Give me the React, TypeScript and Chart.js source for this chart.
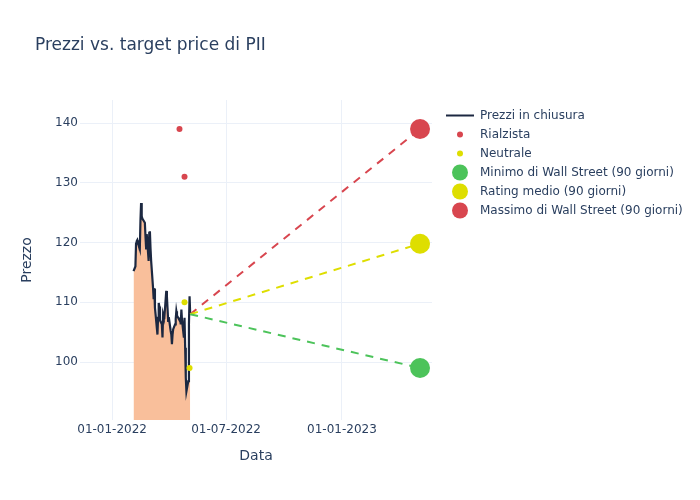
import React, { useEffect, useRef } from "react";
import { Chart, registerables } from "chart.js";

Chart.register(...registerables);

const chartTitle = "Prezzi vs. target price di PII";
const xAxisTitle = "Data";
const yAxisTitle = "Prezzo";

const priceDates = [
  "2022-02-04", "2022-02-07", "2022-02-08", "2022-02-09", "2022-02-10", "2022-02-11",
  "2022-02-14", "2022-02-15", "2022-02-16", "2022-02-17", "2022-02-18", "2022-02-22",
  "2022-02-23", "2022-02-24", "2022-02-25", "2022-02-28",
  "2022-03-01", "2022-03-02", "2022-03-03", "2022-03-04", "2022-03-07", "2022-03-08",
  "2022-03-09", "2022-03-10", "2022-03-11", "2022-03-14", "2022-03-15", "2022-03-16",
  "2022-03-17", "2022-03-18", "2022-03-21", "2022-03-22", "2022-03-23", "2022-03-24",
  "2022-03-25", "2022-03-28", "2022-03-29", "2022-03-30", "2022-03-31",
  "2022-04-01", "2022-04-04", "2022-04-05", "2022-04-06", "2022-04-07", "2022-04-08",
  "2022-04-11", "2022-04-12", "2022-04-13", "2022-04-14", "2022-04-18", "2022-04-19",
  "2022-04-20", "2022-04-21", "2022-04-22", "2022-04-25", "2022-04-26", "2022-04-27",
  "2022-04-28", "2022-04-29",
  "2022-05-02", "2022-05-03", "2022-05-04", "2022-05-05",
];
const priceValues = [
  115.2, 116.0, 119.8, 120.2, 120.4, 120.0,
  118.9, 123.6, 126.6, 124.4, 124.0, 123.3,
  121.0, 119.0, 121.4, 116.9,
  121.6, 121.9, 119.0, 116.9, 112.4, 110.5,
  112.3, 109.1, 108.0, 104.6, 107.4, 109.9,
  109.3, 107.0, 106.3, 104.1, 108.0, 107.6,
  107.5, 111.9, 111.0, 109.0, 106.9,
  107.5, 105.2, 104.6, 103.0, 104.6, 105.5,
  106.3, 107.2, 108.5, 107.8, 107.0, 107.2,
  106.3, 108.8, 107.0, 104.1, 107.4, 102.4,
  97.4, 95.1,
  96.8, 106.3, 111.0, 108.0,
];

const bullishDates = ["2022-04-18", "2022-04-26"];
const bullishValues = [139, 131];
const neutralDates = ["2022-04-26", "2022-05-04"];
const neutralValues = [110, 99];

const targetDate = "2023-05-05";
const targetLabels = [
  "Minimo di Wall Street (90 giorni)",
  "Rating medio (90 giorni)",
  "Massimo di Wall Street (90 giorni)",
];
const targetValues = [99, 119.8, 139];

const seriesLabels = ["Prezzi in chiusura", "Rialzista", "Neutrale"];

const xTickDates = ["2022-01-01", "2022-07-01", "2023-01-01"];
const yTickValues = [100, 110, 120, 130, 140];
const xRange = ["2021-11-11", "2023-05-24"];
const yRange = [90.3, 143.85];

const FONT = '"DejaVu Sans", sans-serif';
const TEXT = "#2a3f5f";
const GRID = "#ebf0f8";
const LINE = "#1c2841";
const FILL = "#f9bf9b";
const RED = "#d8464f";
const YELLOW = "#dede00";
const GREEN = "#4cc35a";
const targetColors = [GREEN, YELLOW, RED];

const t = (s: string) => Date.parse(s + "T00:00:00Z");

function fmtDate(ms: number) {
  const d = new Date(ms);
  const dd = String(d.getUTCDate()).padStart(2, "0");
  const mm = String(d.getUTCMonth() + 1).padStart(2, "0");
  return `${dd}-${mm}-${d.getUTCFullYear()}`;
}

const decorPlugin = {
  id: "decor",
  afterDraw(chart: any) {
    const ctx = chart.ctx as CanvasRenderingContext2D;
    ctx.save();
    ctx.fillStyle = TEXT;
    ctx.font = `17px ${FONT}`;
    ctx.textBaseline = "middle";
    ctx.textAlign = "left";
    ctx.fillText(chartTitle, 35, 45.5);

    const items = [
      { label: seriesLabels[0], kind: "line", color: LINE, r: 0 },
      { label: seriesLabels[1], kind: "dot", color: RED, r: 3 },
      { label: seriesLabels[2], kind: "dot", color: YELLOW, r: 3 },
      { label: targetLabels[0], kind: "dot", color: GREEN, r: 8 },
      { label: targetLabels[1], kind: "dot", color: YELLOW, r: 8 },
      { label: targetLabels[2], kind: "dot", color: RED, r: 8 },
    ];
    ctx.font = `12px ${FONT}`;
    items.forEach((it, i) => {
      const y = 115.5 + i * 19;
      if (it.kind === "line") {
        ctx.strokeStyle = it.color;
        ctx.lineWidth = 2;
        ctx.beginPath();
        ctx.moveTo(446, y);
        ctx.lineTo(474, y);
        ctx.stroke();
      } else {
        ctx.fillStyle = it.color;
        ctx.beginPath();
        ctx.arc(460, y, it.r, 0, Math.PI * 2);
        ctx.fill();
      }
      ctx.fillStyle = TEXT;
      ctx.fillText(it.label, 480, y);
    });
    ctx.restore();
  },
};

export default function App() {
  const ref = useRef<HTMLCanvasElement | null>(null);

  useEffect(() => {
    document.body.style.margin = "0";
    const canvas = ref.current;
    if (!canvas) return;

    const lastX = t(priceDates[priceDates.length - 1]);
    const lastY = priceValues[priceValues.length - 1];

    const datasets: any[] = [];

    targetValues.forEach((v, i) => {
      datasets.push({
        label: targetLabels[i],
        data: [{ x: t(targetDate), y: v }],
        showLine: false,
        pointRadius: 10,
        pointHoverRadius: 10,
        pointBackgroundColor: targetColors[i],
        pointBorderWidth: 0,
        borderColor: targetColors[i],
        order: 1,
      });
    });
    datasets.push({
      label: seriesLabels[1],
      data: bullishDates.map((d, i) => ({ x: t(d), y: bullishValues[i] })),
      showLine: false,
      pointRadius: 3,
      pointBackgroundColor: RED,
      pointBorderWidth: 0,
      order: 2,
    });
    datasets.push({
      label: seriesLabels[2],
      data: neutralDates.map((d, i) => ({ x: t(d), y: neutralValues[i] })),
      showLine: false,
      pointRadius: 3,
      pointBackgroundColor: YELLOW,
      pointBorderWidth: 0,
      order: 2,
    });
    targetValues.forEach((v, i) => {
      datasets.push({
        label: "proj" + i,
        data: [
          { x: lastX, y: lastY },
          { x: t(targetDate), y: v },
        ],
        borderColor: targetColors[i],
        borderWidth: 2,
        borderDash: [8, 7],
        pointRadius: 0,
        fill: false,
        order: 3,
      });
    });
    datasets.push({
      label: seriesLabels[0],
      data: priceDates.map((d, i) => ({ x: t(d), y: priceValues[i] })),
      borderColor: LINE,
      borderWidth: 2.2,
      backgroundColor: FILL,
      fill: "start",
      pointRadius: 0,
      tension: 0,
      order: 4,
    });

    const chart = new Chart(canvas, {
      type: "line",
      data: { datasets },
      options: {
        animation: false,
        responsive: false,
        devicePixelRatio: 1,
        layout: { padding: { top: 100, right: 268, bottom: 0, left: 0 } },
        plugins: {
          legend: { display: false },
          title: { display: false },
          tooltip: { enabled: false },
        },
        scales: {
          x: {
            type: "linear",
            min: t(xRange[0]),
            max: t(xRange[1]),
            afterBuildTicks: (scale: any) => {
              scale.ticks = xTickDates.map((d) => ({ value: t(d) }));
            },
            afterFit: (scale: any) => {
              scale.height = 80;
            },
            ticks: {
              callback: (v: any) => fmtDate(Number(v)),
              color: TEXT,
              font: { family: FONT, size: 12 },
              padding: 3,
              maxRotation: 0,
              autoSkip: false,
            },
            grid: { color: GRID, lineWidth: 1, drawTicks: false },
            border: { display: false },
            title: {
              display: true,
              text: xAxisTitle,
              color: TEXT,
              font: { family: FONT, size: 14 },
              padding: { top: 0, bottom: 35.6 },
            },
          },
          y: {
            type: "linear",
            min: yRange[0],
            max: yRange[1],
            afterBuildTicks: (scale: any) => {
              scale.ticks = yTickValues.map((v) => ({ value: v }));
            },
            afterFit: (scale: any) => {
              scale.width = 80;
            },
            ticks: {
              color: TEXT,
              font: { family: FONT, size: 12 },
              padding: 2,
            },
            grid: { color: GRID, lineWidth: 1, drawTicks: false },
            border: { display: false },
            title: {
              display: true,
              text: yAxisTitle,
              color: TEXT,
              font: { family: FONT, size: 14 },
              padding: { top: 18.6, bottom: 0 },
            },
          },
        },
      },
      plugins: [decorPlugin],
    } as any);

    return () => chart.destroy();
  }, []);

  return (
    <canvas
      ref={ref}
      width={700}
      height={500}
      style={{ display: "block", width: 700, height: 500 }}
    />
  );
}
